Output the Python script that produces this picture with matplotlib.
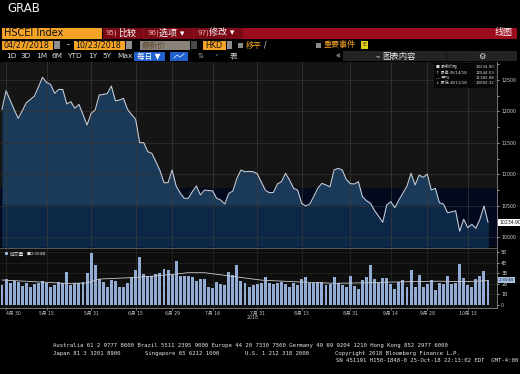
import matplotlib
matplotlib.use("Agg")
import matplotlib.pyplot as plt
from matplotlib.patches import Rectangle
from matplotlib.lines import Line2D
from matplotlib.transforms import Affine2D
import numpy as np

plt.rcParams['font.family'] = ['DejaVu Sans', 'Noto Sans CJK SC']

# HSCEI closes, 04/27/2018 .. 10/23/2018 (trading days)
price = [12033, 12330, 12180, 12030, 11890, 12010, 12139, 12190, 12245, 12390,
         12544, 12460, 12430, 12288, 12350, 12350, 12118, 12155, 12049, 12113,
         11950, 11783, 11970, 12022, 12261, 12270, 12285, 12404, 12171, 12180,
         12208, 12033, 11950, 11874, 11502, 11502, 11359, 11332, 11200, 11060,
         10865, 10865, 11067, 10812, 10700, 10616, 10616, 10722, 10812, 10669,
         10748, 10740, 10735, 10616, 10589, 10525, 10695, 10732, 10934, 11067,
         11040, 11045, 11040, 11010, 10880, 10748, 10706, 10710, 10844, 10881,
         11014, 10908, 10775, 10748, 10536, 10494, 10525, 10650, 10780, 10855,
         10828, 10801, 11067, 11094, 11067, 10919, 10850, 10844, 10881, 10642,
         10578, 10536, 10420, 10330, 10234, 10510, 10562, 10467, 10589, 10700,
         10812, 11014, 10828, 10987, 10950, 11003, 10748, 10775, 10546, 10525,
         10387, 10400, 10419, 10092, 10282, 10148, 10202, 10138, 10282, 10494,
         10235]

# volume in billions
volume = [1.90, 2.45, 2.10, 2.26, 2.17, 1.82, 2.04, 1.73, 1.98, 2.10,
          2.26, 2.10, 1.73, 1.92, 2.20, 2.04, 3.14, 1.92, 2.04, 2.10,
          2.14, 3.05, 4.87, 3.77, 2.50, 2.14, 1.73, 2.36, 2.30, 1.67,
          1.73, 2.10, 2.67, 3.30, 4.50, 2.92, 2.74, 2.74, 2.92, 2.99,
          3.36, 3.30, 2.83, 4.15, 2.74, 2.74, 2.74, 2.61, 2.26, 2.50,
          2.50, 1.73, 1.57, 2.14, 1.98, 1.92, 3.14, 2.83, 3.77, 2.30,
          2.04, 1.73, 1.89, 2.01, 2.04, 2.67, 2.04, 1.95, 2.04, 2.14,
          1.95, 1.67, 2.10, 1.86, 2.42, 2.61, 2.04, 2.04, 2.14, 2.14,
          1.92, 1.98, 2.67, 2.10, 1.86, 1.73, 2.74, 1.79, 1.48, 2.36,
          2.61, 3.77, 2.42, 2.04, 2.58, 2.58, 1.98, 1.48, 2.20, 2.36,
          1.73, 3.30, 1.67, 2.83, 1.73, 1.95, 2.36, 1.42, 2.04, 1.95,
          2.74, 1.98, 2.04, 3.87, 2.52, 1.89, 1.73, 2.42, 2.74, 3.24,
          2.36]

ma_idx = [0, 8, 16, 21, 24, 33, 41, 46, 50, 57, 64, 72, 82, 90, 100, 108, 114, 120]
ma_val = [2.36, 2.20, 2.04, 2.08, 2.45, 2.60, 2.85, 3.05, 3.05, 2.70, 2.35, 2.20,
          2.05, 2.10, 2.20, 2.25, 2.20, 2.30]

tick_idx = [1, 11, 22, 33, 42, 52, 63, 74, 86, 96, 105, 115]
tick_lbl = ["4月 30", "5月 15", "5月 31", "6月 15", "6月 29", "7月 16", "7月 31",
            "8月 15", "8月 31", "9月 14", "9月 28", "10月 15"]

legend_rows = [("■ 最新价格", "", "10234.90"),
               ("↑ 最高", "05/14/18", "12544.53"),
               ("— 平均", "", "11182.08"),
               ("↓ 最低", "10/11/18", "10092.32")]

W, H = 520, 374
ORANGE = '#f5a327'
RED = '#9b0c1d'

fig = plt.figure(figsize=(W / 100, H / 100), dpi=100, facecolor='black')
T = Affine2D().scale(1 / W, -1 / H).translate(0, 1) + fig.transFigure


def px(x0, y0, x1, y1):
    return [x0 / W, 1 - y1 / H, (x1 - x0) / W, (y1 - y0) / H]


def box(x, y, w, h, fc, z=1):
    fig.add_artist(Rectangle((x, y), w, h, facecolor=fc, edgecolor='none',
                             transform=T, zorder=z))


def txt(x, y, s, size=6, color='white', ha='left', z=3, **kw):
    fig.text(x, y, s, fontsize=size, color=color, ha=ha, va='center',
             transform=T, zorder=z, **kw)


# ---- header / toolbar ----
txt(7, 9, "GRAB", size=8.5, color='#f0f0f0')

box(2, 27.5, 100, 11, ORANGE)
txt(4, 33, "HSCEI Index", size=7, color='#111111')
box(103, 27.5, 414, 11, RED)
for x0, w in [(103, 40), (144, 49), (194, 49)]:
    box(x0, 27.5, w, 11, '#7c0a16', z=1.5)
txt(106, 33, "95)", size=5, color='#f0b0b0')
txt(118, 33, "比较", size=6.5)
txt(147, 33, "96)", size=5, color='#f0b0b0')
txt(159, 33, "选项 ▾", size=6.5)
txt(197, 33, "97)", size=5, color='#f0b0b0')
txt(209, 33, "修改 ▾", size=6.5)
txt(513, 33, "线图", size=6.5, ha='right')

box(2, 40.5, 51, 9, ORANGE)
txt(3.5, 45, "04/27/2018", size=5.8, color='#111111')
box(54, 41, 6, 8, '#8e8e8e')
txt(67, 45, "-", size=6)
box(74, 40.5, 51, 9, ORANGE)
txt(75.5, 45, "10/23/2018", size=5.8, color='#111111')
box(126, 41, 6, 8, '#8e8e8e')
box(140, 40.5, 50, 9, '#8a8278')
txt(142, 45, "最新价", size=5.8, color='#5c4a30')
box(191, 41, 6, 8, '#4a4a4a')
box(203, 40.5, 23, 9, ORANGE)
txt(205, 45, "HKD", size=5.8, color='#111111')
box(227, 41, 5, 8, '#8e8e8e')
box(238, 42.5, 5, 5, '#8a8a8a')
txt(246, 45, "移平", size=5.8, color=ORANGE)
txt(264, 45, "/", size=5.5, color='#dddddd')
box(316, 42.5, 5, 5, '#8a8a8a')
txt(324, 45, "重要事件", size=5.8, color=ORANGE)
box(361, 41, 7, 8, '#e2cf22')
txt(364.5, 45, "E", size=4.5, color='#333300', ha='center')

box(343, 51, 174, 10, '#232323')
box(446, 51.5, 1, 9, '#111111', z=1.5)
for s, x in [("1D", 6), ("3D", 20), ("1M", 36), ("6M", 52), ("YTD", 67),
             ("1Y", 88), ("5Y", 102), ("Max", 117)]:
    txt(x, 56, s, size=5.3, color='#dcdcdc')
box(134, 51.5, 31, 9, '#1f60cc')
txt(137, 56, "每日 ▼", size=5.5)
box(170, 51.5, 18, 9, '#1f60cc')
fig.add_artist(Line2D([174, 177, 180, 184], [58, 55, 57, 54], color='#cfe0ff',
                      lw=0.6, transform=T, zorder=3))
txt(198, 56, "⇅", size=5, color='#999999')
txt(215, 56, "'", size=5, color='#cccccc')
txt(230, 56, "表", size=5.5, color='#dddddd')
txt(335, 56, "«", size=6, color='#dddddd')
txt(376, 56, "⌁", size=5, color='#dddddd')
txt(382, 56, "图表内容", size=6, color='#e8e8e8')
txt(482, 56, "⚙", size=6, color='#dddddd', ha='center')

# ---- price panel ----
x = np.arange(len(price))
xlim = (-2 / 4.05, 495 / 4.05)
ylo, yhi = 9841, 12787

ax = fig.add_axes(px(0, 62, 497, 247), facecolor='#151515')
ax.set_xlim(*xlim)
ax.set_ylim(ylo, yhi)
ax.axhspan(ylo, 10780, color='#030a1e', zorder=0.5)
ax.fill_between(x, ylo, price, color='#1b3a5a', lw=0, zorder=1)
ax.fill_between(x, ylo, np.minimum(price, 10510), color='#0d2746', lw=0, zorder=1.1)
for t in tick_idx:
    ax.axvline(t, color='#3a3a3a', lw=0.5, zorder=1.5)
for v in range(10000, 12501, 500):
    ax.axhline(v, color='#333333', lw=0.5, zorder=1.5)
ax.plot(x, price, color='#c9d1dc', lw=0.75, zorder=3)

for s in ['top', 'left', 'bottom']:
    ax.spines[s].set_visible(False)
ax.spines['right'].set_color('#8a8a8a')
ax.spines['right'].set_linewidth(0.6)
ax.yaxis.tick_right()
ax.set_yticks(range(10000, 12501, 500))
ax.set_yticks(range(10250, 12751, 500), minor=True)
ax.tick_params(axis='y', which='both', colors='#bbbbbb', labelcolor='#d0d0d0',
               labelsize=3.4, length=1.5, width=0.6, pad=1.5)
ax.set_xticks([])

# last price tag
ax.text(1.004, price[-1], "10234.90", transform=ax.get_yaxis_transform(),
        fontsize=3.3, color='#111111', va='center', ha='left', zorder=5,
        bbox=dict(boxstyle='square,pad=0.25', fc='white', ec='none'), clip_on=False)

# legend block in top right
box(434, 63, 61, 25, '#060606', z=2)
for k, (lab, dt, val) in enumerate(legend_rows):
    yy = 67 + 5.5 * k
    txt(436, yy, lab, size=2.9, color='#dddddd')
    if dt:
        txt(450, yy, dt, size=2.9, color='#dddddd')
    txt(494, yy, val, size=2.9, color='#dddddd', ha='right')

# ---- volume panel ----
vax = fig.add_axes(px(0, 248, 497, 308), facecolor='#0e0e0e')
vax.set_xlim(*xlim)
vax.set_ylim(-0.28, 5.38)
for t in tick_idx:
    vax.axvline(t, color='#2c2c2c', lw=0.5, zorder=0.5)
for v in range(1, 6):
    vax.axhline(v, color='#262626', lw=0.5, zorder=0.5)
vax.bar(x, volume, width=0.72, color='#93acd6', lw=0, zorder=2)
vax.plot(ma_idx, ma_val, color='#c8c8c8', lw=0.6, zorder=3)

vax.spines['top'].set_color('#666666')
vax.spines['top'].set_linewidth(0.6)
vax.spines['left'].set_visible(False)
vax.spines['right'].set_color('#8a8a8a')
vax.spines['right'].set_linewidth(0.6)
vax.spines['bottom'].set_color('#8a8a8a')
vax.spines['bottom'].set_linewidth(0.6)
vax.yaxis.tick_right()
vax.set_yticks(range(0, 6))
vax.set_yticklabels(["0", "1B", "2B", "3B", "4B", "5B"])
vax.tick_params(axis='y', colors='#bbbbbb', labelcolor='#d0d0d0', labelsize=3.3,
                length=1.5, width=0.6, pad=1.5)
vax.set_xticks(tick_idx)
vax.set_xticklabels(tick_lbl)
vax.get_xticklabels()[0].set_horizontalalignment('left')
vax.tick_params(axis='x', colors='#999999', labelcolor='#c8c8c8', labelsize=3.3,
                length=1.2, width=0.5, pad=1)

vax.text(1.004, volume[-1], "2.304B", transform=vax.get_yaxis_transform(),
         fontsize=3.2, color='#1a2a44', va='center', ha='left', zorder=5,
         bbox=dict(boxstyle='square,pad=0.25', fc='#a9bfe2', ec='none'), clip_on=False)
box(5, 252.5, 3, 3, '#93acd6', z=4)
txt(10, 254, "成交量", size=3.4, color='#dddddd', z=4)
txt(27, 254, "■", size=3.0, color='#dddddd', z=4)
txt(31, 254, "2.304B", size=3.2, color='#dddddd', z=4)

txt(253, 318, "2018", size=3.3, color='#c8c8c8', ha='center')

# ---- footer ----
mono = dict(family='DejaVu Sans Mono')
txt(53, 346, "Australia 61 2 9777 8600 Brazil 5511 2395 9000 Europe 44 20 7330 7500 "
    "Germany 49 69 9204 1210 Hong Kong 852 2977 6000", size=4.1, color='#e8e8e8', **mono)
txt(53, 353.5, "Japan 81 3 3201 8900", size=4.1, color='#e8e8e8', **mono)
txt(145, 353.5, "Singapore 65 6212 1000", size=4.1, color='#e8e8e8', **mono)
txt(245, 353.5, "U.S. 1 212 318 2000", size=4.1, color='#e8e8e8', **mono)
txt(335, 353.5, "Copyright 2018 Bloomberg Finance L.P.", size=4.1, color='#e8e8e8', **mono)
txt(518, 360.5, "SN 451191 H150-1848-0 25-Oct-18 22:13:02 EDT  GMT-4:00", size=4.1,
    color='#e8e8e8', ha='right', **mono)

fig.savefig("out.png", dpi=100, facecolor='black')
